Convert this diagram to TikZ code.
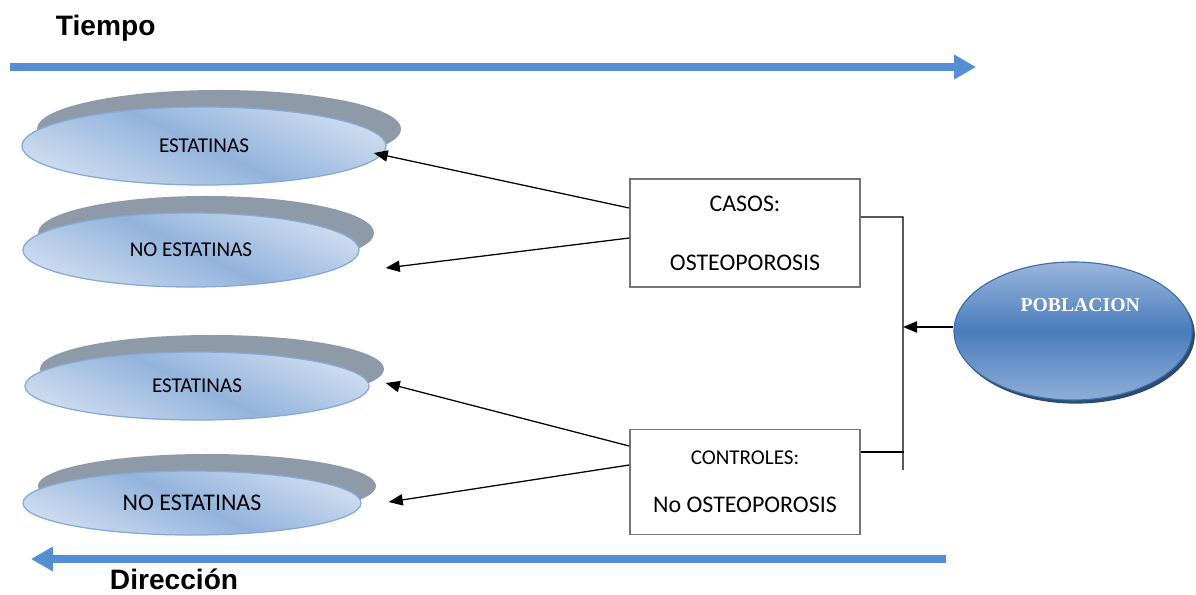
\documentclass[tikz,border=0pt]{standalone}
\usepackage{fontspec}
\setmainfont{Carlito}
\newfontfamily\arialfont{Liberation Sans}
\newfontfamily\timesfont{Liberation Serif}
\usetikzlibrary{shapes.geometric,shadows,arrows.meta}

\definecolor{timeblue}{HTML}{558ED5}
\definecolor{ovalgray}{HTML}{8E9AA8}
\definecolor{ovaledge}{HTML}{86A9D8}
\definecolor{ovaldark}{HTML}{93B3DC}
\definecolor{ovallight}{HTML}{CCDBEF}
\definecolor{boxgray}{HTML}{767676}
\definecolor{pobmid}{HTML}{4A7DBD}
\definecolor{pobtop}{HTML}{9AB6DC}
\definecolor{pobedge}{HTML}{3F6EA6}
\definecolor{pobshadow}{HTML}{2B4A74}

\begin{document}
\begin{tikzpicture}[x=0.025cm,y=-0.025cm]
\tikzstyle{ovalbox}=[ellipse, draw=ovaledge, line width=0.9pt, inner sep=0pt,
    top color=ovallight, bottom color=ovallight, middle color=ovaldark, shading angle=-25,
    drop shadow={shadow xshift=0.375cm, shadow yshift=0.425cm, opacity=1, fill=ovalgray}]
\tikzstyle{groupbox}=[rectangle, draw=boxgray, line width=1.1pt, fill=white,
    minimum width=5.75cm, align=center]
\tikzstyle{timearrow}=[timeblue, line width=5.7pt, -{Triangle[length=15.5pt,width=16.5pt]}]
\tikzstyle{link}=[black, line width=0.9pt, -{Triangle[length=10pt,width=8pt]}]

\useasboundingbox (0,0) rectangle (1196,594);

% tiempo / direccion
\node[anchor=base west, font=\arialfont\bfseries\fontsize{20}{24}\selectfont] (tiempo) at (51,35) {Tiempo};
\coordinate (t0) at (10,67);
\coordinate (t1) at (976,67);
\draw[timearrow] (t0) -- (t1);

\coordinate (d0) at (946,559);
\coordinate (d1) at (31,559);
\draw[timearrow] (d0) -- (d1);
\node[anchor=base west, font=\arialfont\bfseries\fontsize{20}{24}\selectfont] (direccion) at (105,589) {Dirección};

% ovalos
\node[ovalbox, minimum width=9.1cm, minimum height=1.95cm, font=\fontsize{15}{18}\selectfont] (est1) at (204,146) {ESTATINAS};
\node[ovalbox, minimum width=8.4cm, minimum height=1.85cm, font=\fontsize{15}{18}\selectfont] (noest1) at (191,250) {NO ESTATINAS};
\node[ovalbox, minimum width=8.6cm, minimum height=1.7cm, font=\fontsize{15}{18}\selectfont] (est2) at (197,386) {ESTATINAS};
\node[ovalbox, minimum width=8.45cm, minimum height=1.6cm, font=\fontsize{17}{20}\selectfont] (noest2) at (192,503) {NO ESTATINAS};

% casos y controles
\node[groupbox, minimum height=2.7cm, font=\fontsize{17}{20}\selectfont] (casos) at (745,233)
    {CASOS:\\[22pt]OSTEOPOROSIS};
\node[groupbox, minimum height=2.62cm] (controles) at (745,482)
    {\fontsize{15}{18}\selectfont CONTROLES:\\[22pt]\fontsize{17}{20}\selectfont No OSTEOPOROSIS};

% poblacion
\node[ellipse, draw=pobedge, line width=0.8pt, minimum width=5.95cm, minimum height=3.45cm,
    top color=pobtop, bottom color=pobtop!85!pobmid, middle color=pobmid,
    drop shadow={shadow xshift=0.07cm, shadow yshift=-0.09cm, opacity=1, fill=pobshadow}] (pob) at (1073,331) {};
\node[text=white, font=\timesfont\bfseries\fontsize{14}{16}\selectfont] (pobtext) at ([xshift=0.18cm,yshift=0.65cm]pob.center) {POBLACION};

\coordinate (bartop) at (903,217);
\coordinate (barbot) at (903,470);
\draw[line width=0.9pt] ([yshift=0.4cm]casos.east) -- (bartop) -- (barbot);
\draw[line width=0.9pt] ([yshift=0.75cm]controles.east) -- ++(43,0);
\draw[link] ([yshift=0.1cm]pob.west) -- ([yshift=0.1cm]pob.west -| bartop);

\draw[link] ([yshift=0.625cm]casos.west) -- ([xshift=-0.325cm,yshift=-0.175cm]est1.east);
\draw[link] ([yshift=-0.125cm]casos.west) -- ([xshift=0.65cm,yshift=-0.45cm]noest1.east);
\draw[link] ([yshift=0.9cm]controles.west) -- ([xshift=0.4cm,yshift=0.075cm]est2.east);
\draw[link] ([yshift=0.425cm]controles.west) -- ([xshift=0.675cm,yshift=0.025cm]noest2.east);
\end{tikzpicture}
\end{document}
